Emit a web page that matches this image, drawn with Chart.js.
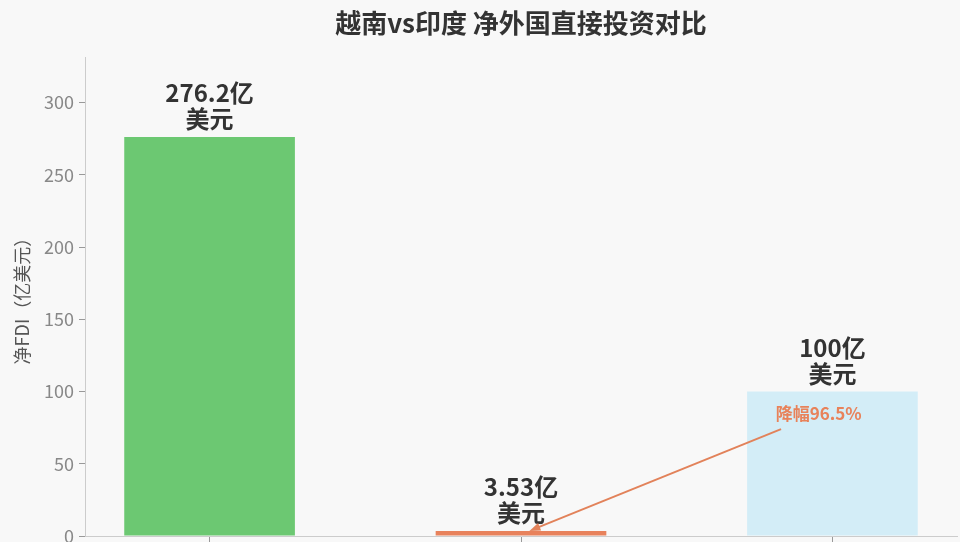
<!DOCTYPE html>
<html>
<head>
<meta charset="utf-8">
<script src="https://cdn.jsdelivr.net/npm/chart.js@4/dist/chart.umd.min.js"></script>
<style>
  html, body { margin: 0; padding: 0; background: #f8f8f8; }
  #wrap { width: 960px; height: 542px; }
</style>
</head>
<body>
<div id="wrap"><canvas id="myChart" width="960" height="542"></canvas></div>
<script>
// data
var categories = ["越南", "印度", "印度（上年）"];
var values = [276.2, 3.53, 100];
var valueLabels = [["276.2亿", "美元"], ["3.53亿", "美元"], ["100亿", "美元"]];
var barColors = ["#6cc872", "#e8825c", "#d3edf7"];
var yTicks = [0, 50, 100, 150, 200, 250, 300];

var FONT = "'Noto Sans CJK SC', 'Noto Sans', sans-serif";

var points = values.map(function (v, i) { return { x: i, y: v }; });

// value labels + drop annotation
var labelPlugin = {
  id: 'labels',
  afterDatasetsDraw: function (chart) {
    var ctx = chart.ctx;
    var xs = chart.scales.x, ys = chart.scales.y;
    ctx.save();
    ctx.fillStyle = '#333';
    ctx.font = 'bold 24px ' + FONT;
    ctx.textAlign = 'center';
    ctx.textBaseline = 'middle';
    values.forEach(function (v, i) {
      var px = xs.getPixelForValue(i);
      var py = ys.getPixelForValue(v);
      ctx.fillText(valueLabels[i][0], px, py - 44);
      ctx.fillText(valueLabels[i][1], px, py - 18);
    });

    // arrow from text to the India bar
    var x0 = xs.getPixelForValue(1.835), y0 = ys.getPixelForValue(74);
    var x1 = xs.getPixelForValue(1.027), y1 = ys.getPixelForValue(values[1]);
    var ang = Math.atan2(y1 - y0, x1 - x0);
    ctx.strokeStyle = '#e2825a';
    ctx.fillStyle = '#e2825a';
    ctx.lineWidth = 2;
    ctx.beginPath();
    ctx.moveTo(x0, y0);
    ctx.lineTo(x1 - 6 * Math.cos(ang), y1 - 6 * Math.sin(ang));
    ctx.stroke();
    ctx.beginPath();
    ctx.moveTo(x1, y1);
    ctx.lineTo(x1 - 11 * Math.cos(ang) + 4 * Math.sin(ang), y1 - 11 * Math.sin(ang) - 4 * Math.cos(ang));
    ctx.lineTo(x1 - 11 * Math.cos(ang) - 4 * Math.sin(ang), y1 - 11 * Math.sin(ang) + 4 * Math.cos(ang));
    ctx.closePath();
    ctx.fill();

    ctx.fillStyle = '#e8825a';
    ctx.font = 'bold 17px ' + FONT;
    ctx.fillText('降幅96.5%', xs.getPixelForValue(1.956), ys.getPixelForValue(85));
    ctx.restore();
  }
};

var ctx = document.getElementById("myChart").getContext('2d');
var myChart = new Chart(ctx, {
  type: 'bar',
  data: {
    datasets: [{
      data: points,
      backgroundColor: barColors,
      borderWidth: 0,
      barPercentage: 0.548,
      categoryPercentage: 1
    }]
  },
  options: {
    responsive: false,
    animation: false,
    layout: { padding: { left: 10, right: 3, top: 0, bottom: 0 } },
    plugins: {
      legend: { display: false },
      tooltip: {
        callbacks: {
          title: function (items) { return categories[items[0].dataIndex]; }
        }
      },
      title: {
        display: true,
        fullSize: false,
        text: '越南vs印度 净外国直接投资对比',
        color: '#333',
        font: { family: FONT, size: 26, weight: 'bold', lineHeight: 1.2 },
        padding: { top: 8, bottom: 18 }
      }
    },
    scales: {
      x: {
        type: 'linear',
        offset: false,
        min: -0.4,
        max: 2.4,
        afterBuildTicks: function (s) {
          s.ticks = categories.map(function (c, i) { return { value: i }; });
        },
        ticks: { display: false },
        grid: { offset: false, drawOnChartArea: false, drawTicks: true, tickLength: 6, color: '#999' },
        border: { color: '#ccc' }
      },
      y: {
        min: 0,
        max: 331.44,
        afterBuildTicks: function (s) {
          s.ticks = yTicks.map(function (v) { return { value: v }; });
        },
        afterFit: function (s) {
          s.width = 75;
          s.paddingTop = 0;
          s.paddingBottom = 0;
        },
        ticks: { color: '#888', padding: 5, font: { family: FONT, size: 18 } },
        grid: { drawOnChartArea: false, drawTicks: true, tickLength: 6, color: '#999' },
        border: { color: '#ccc' },
        title: {
          display: true,
          text: '净FDI（亿美元）',
          color: '#555',
          padding: { top: 1, bottom: 0 },
          font: { family: FONT, size: 18 }
        }
      }
    }
  },
  plugins: [labelPlugin]
});
</script>
</body>
</html>
